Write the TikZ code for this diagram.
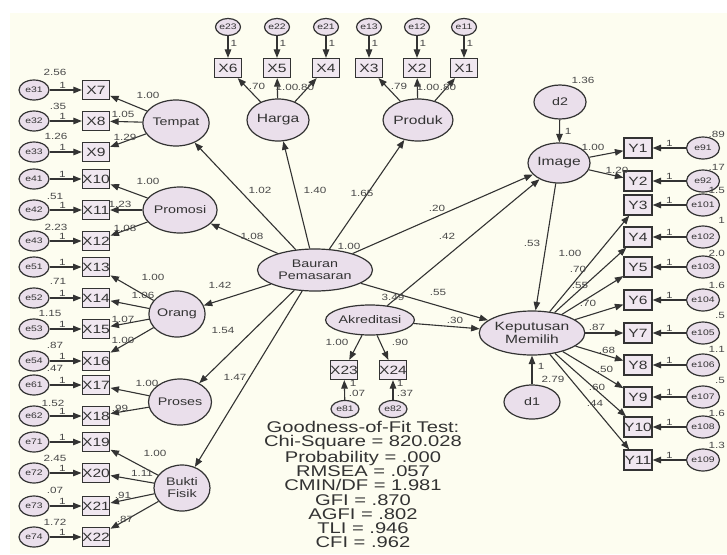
\documentclass[tikz,border=0pt]{standalone}
\usepackage{fontspec}
\setmainfont[FakeStretch=1.3]{Liberation Sans}
\usetikzlibrary{shapes.geometric,arrows.meta}

\definecolor{bgcream}{HTML}{FDFDF0}
\definecolor{lilac}{HTML}{EADFEB}
\definecolor{boxpink}{HTML}{F0E7F0}
\definecolor{inkgray}{HTML}{333333}
\definecolor{numgray}{HTML}{484848}

\begin{document}
\begin{tikzpicture}[x=1pt,y=-1pt,
		lat/.style={ellipse,draw=inkgray,line width=1.2pt,fill=lilac,inner sep=0pt,
			text=inkgray,font=\fontsize{11}{12}\selectfont,align=center},
		ind/.style={rectangle,draw=inkgray,line width=1.2pt,fill=boxpink,inner sep=0pt,
			minimum width=27pt,minimum height=19pt,text=inkgray,font=\fontsize{12}{12}\selectfont},
		err/.style={ellipse,draw=inkgray,line width=1.2pt,fill=lilac,inner sep=0pt,
			minimum width=30pt,minimum height=20pt,text=inkgray,font=\fontsize{8}{8}\selectfont},
		arr/.style={draw=inkgray,line width=1.1pt,-{Triangle[length=8.5pt,width=6.5pt]}},
		num/.style={text=numgray,font=\fontsize{9}{9}\selectfont,inner sep=0pt}]

		% Bakgrunn
		\useasboundingbox (0,0) rectangle (727,554);
		\fill[bgcream] (10,13) rectangle (727,554);

		% Harga og Produk med indikatorer
		\foreach \nm/\xx/\er in {X6/228/e23,X5/277/e22,X4/326/e21,X3/369/e13,X2/417/e12,X1/464/e11}{
			\node[ind] (\nm) at (\xx,68) {\nm};
			\node[err,minimum width=25pt,minimum height=17pt] (\er) at (\xx,27) {\er};
			\draw[arr] (\er) -- (\nm) node[num,pos=0.35,right=2pt] {1};
		}
		\node[lat,minimum width=62pt,minimum height=42pt,font=\fontsize{12}{12}\selectfont] (harga) at (278,120) {Harga};
		\node[lat,minimum width=62pt,minimum height=42pt,font=\fontsize{12}{12}\selectfont] (produk) at (418,120) {Produk};
		\foreach \src/\dst in {harga/X6,harga/X5,harga/X4,produk/X3,produk/X2,produk/X1}
			\draw[arr] (\src) -- (\dst);

		% Indikator kiri
		\foreach \nm/\yy/\er in {X7/90/e31,X8/121/e32,X9/152/e33,X10/179/e41,X11/210/e42,X12/241/e43,
				X13/267/e51,X14/298/e52,X15/329/e53,X16/361/e54,X17/385/e61,X18/416/e62,
				X19/442/e71,X20/473/e72,X21/506/e73,X22/537/e74}{
			\node[ind] (\nm) at (96,\yy) {\nm};
			\node[err] (\er) at (34,\yy) {\er};
			\draw[arr] (\er) -- (\nm) node[num,pos=0.4,above=1pt] {1};
		}
		\node[lat,minimum width=56pt,minimum height=46pt] (tempat) at (176,123) {Tempat};
		\node[lat,minimum width=56pt,minimum height=46pt] (promosi) at (180,210) {Promosi};
		\node[lat,minimum width=56pt,minimum height=46pt] (orang) at (177,314) {Orang};
		\node[lat,minimum width=56pt,minimum height=46pt] (proses) at (180,402) {Proses};
		\node[lat,minimum width=56pt,minimum height=46pt] (bukti) at (182,488) {Bukti\\Fisik};
		\foreach \src/\dst in {tempat/X7,tempat/X8,tempat/X9,promosi/X10,promosi/X11,promosi/X12,
				orang/X13,orang/X14,orang/X15,orang/X16,proses/X17,proses/X18,
				bukti/X19,bukti/X20,bukti/X21,bukti/X22}
			\draw[arr] (\src) -- (\dst);

		% Bauran Pemasaran dan Akreditasi
		\node[lat,minimum width=115pt,minimum height=42pt] (bauran) at (315,270) {Bauran\\Pemasaran};
		\foreach \dst in {tempat,harga,produk,promosi,orang,proses,bukti}
			\draw[arr] (bauran) -- (\dst);
		\node[lat,minimum width=85pt,minimum height=30pt] (akred) at (370,320) {Akreditasi};
		\node[ind] (X23) at (344,370) {X23};
		\node[ind] (X24) at (393,370) {X24};
		\node[err,minimum width=28pt,minimum height=17pt] (e81) at (345,409) {e81};
		\node[err,minimum width=28pt,minimum height=17pt] (e82) at (393,409) {e82};
		\draw[arr] (akred) -- (X23);
		\draw[arr] (akred) -- (X24);
		\draw[arr] (e81) -- (X23);
		\draw[arr] (e82) -- (X24);

		% Image dan Keputusan Memilih
		\node[lat,minimum width=52pt,minimum height=34pt] (d2) at (560,102) {d2};
		\node[lat,minimum width=62pt,minimum height=40pt,font=\fontsize{12}{12}\selectfont] (image) at (559,163) {Image};
		\node[lat,minimum width=97pt,minimum height=44pt,font=\fontsize{12}{13}\selectfont] (kep) at (532,333) {Keputusan\\Memilih};
		\node[lat,minimum width=56pt,minimum height=34pt] (d1) at (532,402) {d1};
		\foreach \nm/\yy/\er in {Y1/148/e91,Y2/181/e92,Y3/205/e101,Y4/237/e102,Y5/267/e103,Y6/300/e104,
				Y7/333/e105,Y8/365/e106,Y9/397/e107,Y10/427/e108,Y11/460/e109}{
			\node[ind,minimum width=28pt,minimum height=20pt] (\nm) at (638,\yy) {\nm};
			\node[err,minimum width=33pt,minimum height=22pt] (\er) at (703,\yy) {\er};
			\draw[arr] (\er) -- (\nm) node[num,pos=0.5,above=1pt] {1};
		}
		\draw[arr] (image) -- (Y1);
		\draw[arr] (image) -- (Y2);
		\foreach \dst in {Y3,Y4,Y5,Y6,Y7,Y8,Y9,Y10,Y11}
			\draw[arr] (kep) -- (\dst);
		\draw[arr] (d2) -- (image);
		\draw[arr] (d1) -- (kep);
		\draw[arr] (image) -- (kep);
		\draw[arr] (bauran) -- (image);
		\draw[arr] (bauran) -- (kep);
		\draw[arr] (akred) -- (image);
		\draw[arr] (akred) -- (kep);

		% Estimasi
		\foreach \nm/\xx/\yy/\txt in {w7/148/95/1.00,w8/123/114/1.05,w9/125/137/1.29,w10/148/181/1.00,
				w11/120/204/1.23,w12/125/228/1.08,w13/153/277/1.00,w14/143/295/1.06,w15/123/319/1.07,
				w16/123/340/1.00,w17/147/383/1.00,w18/120/408/.99,w19/155/453/1.00,w20/142/473/1.11,
				w21/123/495/.91,w22/125/519/.87,
				v31/55/72/2.56,v32/58/106/.35,v33/56/136/1.26,v42/55/196/.51,v43/56/227/2.23,
				v52/58/281/.71,v53/50/313/1.15,v54/55/345/.87,v61/55/368/.47,v62/53/403/1.52,
				v72/55/458/2.45,v73/55/490/.07,v74/55/522/1.72,
				w6/257/86/.70,w5/287/87/1.00,w4/306/87/.80,w3/399/86/.79,w2/428/87/1.00,w1/448/87/.80,
				bt/260/190/1.02,bh/315/190/1.40,bp/362/193/1.65,bpr/252/236/1.08,bo/220/285/1.42,
				bps/223/330/1.54,bb/235/377/1.47,vb/349/246/1.00,bi/437/208/.20,bk/438/292/.55,
				ai/447/236/.42,ak/455/320/.30,va/393/297/3.49,a23/337/342/1.00,a24/400/342/.90,
				f81/353/383/1,v81/357/393/.07,f82/400/383/1,v82/405/393/.37,
				vd2/583/80/1.36,fd2/568/131/1,i1/593/147/1.00,i2/617/170/1.20,ik/532/243/.53,
				k3/570/253/1.00,k4/578/269/.70,k5/580/285/.55,k6/588/303/.70,k7/597/327/.87,
				k8/607/350/.68,k9/605/369/.50,k10/597/387/.60,k11/595/403/.44,
				fd1/541/366/1,vd1/553/379/2.79}
			\node[num] (\nm) at (\xx,\yy) {\txt};
		\foreach \nm/\yy/\txt in {r1/134/.89,r2/167/.17,r3/190/1.5,r4/220/1,r5/253/2.0,r6/285/1.6,
				r7/315/.5,r8/349/1.1,r9/380/.5,r10/413/1.6,r11/445/1.3}
			\node[num,anchor=east] (\nm) at (725,\yy) {\txt};

		% Goodness-of-Fit
		\node[anchor=north,inner sep=0pt,text=inkgray,align=center,font=\fontsize{15.5}{14.3}\selectfont] (gof) at (363,421)
			{Goodness-of-Fit Test:\\Chi-Square = 820.028\\Probability = .000\\RMSEA = .057\\
			CMIN/DF = 1.981\\GFI = .870\\AGFI = .802\\TLI = .946\\CFI = .962};
	\end{tikzpicture}
\end{document}
